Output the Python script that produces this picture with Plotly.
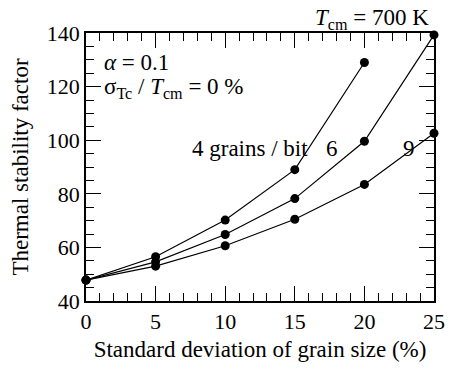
import plotly.graph_objects as go

x4 = [0, 5, 10, 15, 20]
y4 = [47.8, 56.5, 70.2, 89.0, 129.0]
x6 = [0, 5, 10, 15, 20, 25]
y6 = [47.8, 54.6, 64.8, 78.2, 99.6, 139.3]
x9 = [0, 5, 10, 15, 20, 25]
y9 = [47.8, 53.0, 60.6, 70.5, 83.5, 102.6]

FONT = "'Liberation Serif', 'Times New Roman', Times, serif"

fig = go.Figure()
for xs, ys in [(x4, y4), (x6, y6), (x9, y9)]:
    fig.add_trace(go.Scatter(
        x=xs, y=ys, mode="lines+markers",
        line=dict(color="black", width=1.2),
        marker=dict(color="black", size=9),
        cliponaxis=False, showlegend=False,
    ))

axis_common = dict(
    showline=True, linecolor="black", linewidth=1.5, mirror="allticks",
    ticks="inside", ticklen=15, tickwidth=1.2, tickcolor="black",
    showgrid=False, zeroline=False,
    tickfont=dict(family=FONT, size=22, color="black"),
    title_font=dict(family=FONT, size=23, color="black"),
)

fig.update_xaxes(
    range=[0, 25], tick0=0, dtick=5,
    minor=dict(ticks="inside", dtick=1, ticklen=8, tickwidth=1.2, tickcolor="black"),
    title_text="Standard deviation of grain size (%)", title_standoff=8,
    **axis_common,
)
fig.update_yaxes(
    range=[40, 140], tick0=40, dtick=20,
    minor=dict(ticks="inside", dtick=5, ticklen=8, tickwidth=1.2, tickcolor="black"),
    title_text="Thermal stability factor", title_standoff=12,
    **axis_common,
)

ann_font = dict(family=FONT, size=23, color="black")
annotations = [
    dict(text="<i>α</i> = 0.1", x=0.045, y=0.89),
    dict(text="σ<sub>Tc</sub> / <i>T</i><sub>cm</sub> = 0 %", x=0.045, y=0.795),
    dict(text="4 grains / bit", x=0.30, y=0.57),
    dict(text="6", x=0.685, y=0.57),
    dict(text="9", x=0.905, y=0.57),
]
for a in annotations:
    fig.add_annotation(xref="paper", yref="paper", xanchor="left", yanchor="middle",
                       showarrow=False, font=ann_font, **a)
fig.add_annotation(text="<i>T</i><sub>cm</sub> = 700 K", xref="paper", yref="paper",
                   x=0.99, y=1.0, xanchor="right", yanchor="bottom", yshift=-2,
                   showarrow=False, font=ann_font)

fig.update_layout(
    width=457, height=372,
    margin=dict(l=86, r=12, t=33, b=71),
    paper_bgcolor="white", plot_bgcolor="white",
    font=dict(family=FONT, size=22, color="black"),
)

fig.write_html("out.html")
